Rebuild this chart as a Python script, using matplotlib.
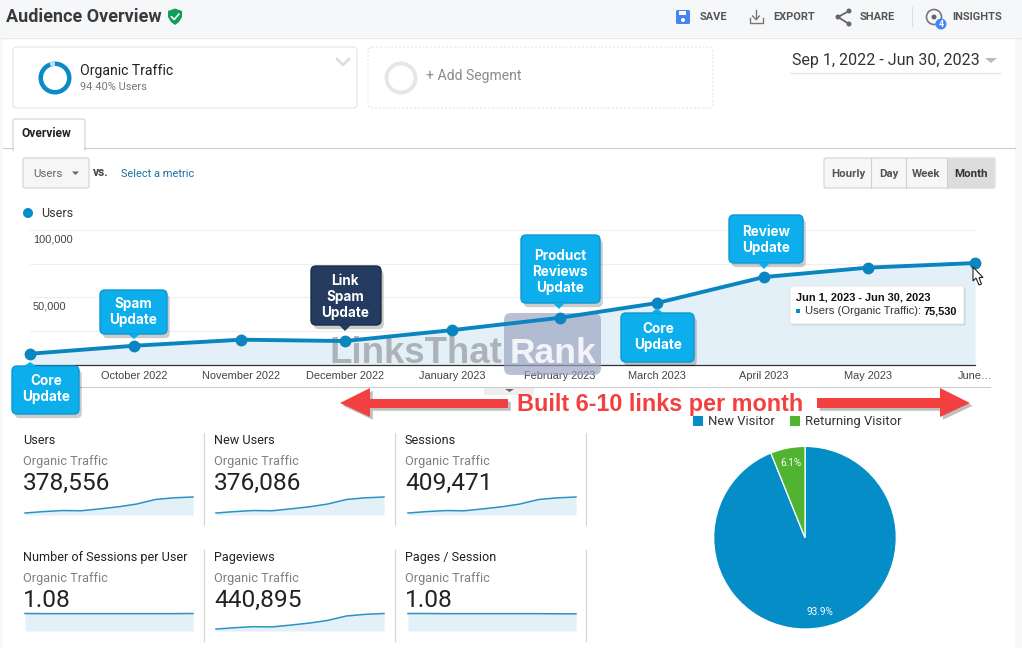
import matplotlib
matplotlib.use("Agg")
import matplotlib.pyplot as plt
import matplotlib.patheffects as pe
import pandas as pd
from matplotlib.patches import Circle, FancyBboxPatch, Polygon, Rectangle, Wedge
from matplotlib.transforms import ScaledTranslation

plt.rcParams["font.family"] = ["Roboto", "DejaVu Sans"]

W, H = 1022, 648

months = ["2022-09-01", "2022-10-01", "2022-11-01", "2022-12-01", "2023-01-01",
          "2023-02-01", "2023-03-01", "2023-04-01", "2023-05-01", "2023-06-01"]
month_labels = ["", "October 2022", "November 2022", "December 2022", "January 2023",
                "February 2023", "March 2023", "April 2023", "May 2023", "June\u2026"]
users = [8350, 14250, 18750, 17750, 25850, 34950, 45850, 65150, 72100, 75530]
new_users = [8300, 14150, 18650, 17650, 25700, 34750, 45550, 64700, 71600, 75100]
sessions = [9000, 15400, 20250, 19200, 27900, 37750, 49500, 70400, 78000, 82000]
pageviews = [9700, 16600, 21800, 20650, 30000, 40600, 53300, 75800, 84000, 88400]
sessions_per_user = [1.09, 1.08, 1.08, 1.08, 1.08, 1.08, 1.08, 1.08, 1.08, 1.09]
pages_per_session = [1.09, 1.09, 1.08, 1.08, 1.08, 1.08, 1.08, 1.08, 1.07, 1.07]

kpi_titles = ["Users", "New Users", "Sessions",
              "Number of Sessions per User", "Pageviews", "Pages / Session"]
kpi_numbers = ["378,556", "376,086", "409,471", "1.08", "440,895", "1.08"]
kpi_series = [users, new_users, sessions, sessions_per_user, pageviews, pages_per_session]

pie_labels = ["New Visitor", "Returning Visitor"]
pie_values = [93.9, 6.1]

BLUE = "#058dc7"
FILL = "#e3f0f8"
GREEN = "#50b432"
CALLOUT = "#0caeec"
CALLOUT_EDGE = "#0b98d4"
NAVY = "#243a5e"
NAVY_EDGE = "#1a2b47"
RED = "#f1403f"

fig = plt.figure(figsize=(W / 100, H / 100), dpi=100, facecolor="white")


def px_axes(x0, y0, x1, y1, zorder=1):
    ax = fig.add_axes([x0 / W, 1 - y1 / H, (x1 - x0) / W, (y1 - y0) / H], zorder=zorder)
    ax.patch.set_alpha(0)
    return ax


def sz(px):
    return px * 0.72


def overlay(zorder):
    ax = px_axes(0, 0, W, H, zorder=zorder)
    ax.set_xlim(0, W)
    ax.set_ylim(H, 0)
    ax.axis("off")
    return ax


def box(ax, x0, y0, x1, y1, r=3, fc="white", ec="#e0e0e0", lw=0.7, ls="-", **kw):
    p = FancyBboxPatch((x0 + r, y0 + r), x1 - x0 - 2 * r, y1 - y0 - 2 * r,
                       boxstyle="round,pad=%s,rounding_size=%s" % (r, r),
                       fc=fc, ec=ec, lw=lw, ls=ls, **kw)
    ax.add_patch(p)
    return p


def label(ax, x, y, s, px=12, color="#333333", weight="normal", ha="left", **kw):
    return ax.text(x, y + 0.8, s, fontsize=sz(px), color=color, fontweight=weight,
                   ha=ha, va="center", **kw)


bg = overlay(0)
top = overlay(5)

# page chrome
bg.add_patch(Rectangle((0, 0), W, 37, fc="#f6f7f9", ec="none"))
bg.add_patch(Rectangle((1015, 37), 7, H, fc="#f7f8fa", ec="none"))
bg.add_patch(Rectangle((0, 37), 3, H, fc="#f7f8fa", ec="none"))
bg.plot([0, W], [37.5, 37.5], color="#e9e9e9", lw=1)

label(bg, 6, 16.5, "Audience Overview", px=18, color="#3a3a3a", weight="bold")
bg.add_patch(Polygon([(168, 11), (175, 8.5), (182, 11), (182, 17), (179, 22), (175, 25),
                      (171, 22), (168, 17)], fc="#0f9d58", ec="none"))
bg.plot([171.5, 174.2, 178.8], [16.8, 19.5, 14.2], color="white", lw=1.2)

for x, s in [(700, "SAVE"), (773, "EXPORT"), (860, "SHARE"), (952, "INSIGHTS")]:
    label(bg, x, 16.5, s, px=11, color="#555555", weight="bold")
box(bg, 676, 10, 690, 24, r=1.5, fc="#4285f4", ec="none")
bg.add_patch(Rectangle((679, 11), 7, 4, fc="white", ec="none"))
bg.add_patch(Circle((683, 20), 2, fc="white", ec="none"))
bg.plot([749.5, 749.5, 762.5, 762.5], [18, 23, 23, 18], color="#777777", lw=1)
bg.plot([756, 756], [10, 19], color="#777777", lw=1)
bg.plot([752.5, 756, 759.5], [16, 19.5, 16], color="#777777", lw=1)
bg.plot([849, 838, 849], [11, 17, 24], color="#666666", lw=1.3)
for cx, cy in [(849, 11), (838, 17), (849, 24)]:
    bg.add_patch(Circle((cx, cy), 2.5, fc="#666666", ec="none"))
bg.plot([911.5, 911.5], [7, 26], color="#dddddd", lw=0.8)
bg.add_patch(Circle((934, 17), 7.5, fc="none", ec="#777777", lw=1.2))
bg.add_patch(Circle((934, 17), 2.5, fc="#666666", ec="none"))
bg.add_patch(Circle((941, 24), 5.5, fc="#4285f4", ec="none"))
label(bg, 941, 23.5, "4", px=9, color="white", weight="bold", ha="center")

# segment boxes
box(bg, 13, 47, 357, 108, r=4)
# matplotlib angles run upward here because the y axis is flipped, so mirror them
bg.add_patch(Wedge((55, 78), 16.5, 0, 360, width=4.5, fc="#0a8ac6", ec="none"))
bg.add_patch(Wedge((55, 78), 16.5, 250, 270, width=4.5, fc="#bcdcec", ec="none"))
label(bg, 80, 70, "Organic Traffic", px=14, color="#222222")
label(bg, 80, 86, "94.40% Users", px=11, color="#777777")
bg.plot([337, 343, 349], [59, 65, 59], color="#dcdcdc", lw=1.8)
box(bg, 368, 47, 713, 108, r=4, ls=(0, (2, 2)))
bg.add_patch(Circle((401, 78), 14.5, fc="none", ec="#e6e6e6", lw=2.8))
label(bg, 426, 75, "+ Add Segment", px=14, color="#8a8a8a")
label(bg, 792, 60, "Sep 1, 2022 - Jun 30, 2023", px=16, color="#333333")
bg.add_patch(Polygon([(985, 58), (997, 58), (991, 63)], fc="#bbbbbb", ec="none"))
bg.plot([790, 1000], [73, 73], color="#e6e6e6", lw=1)

# tab row
bg.plot([3, 1015], [147.5, 147.5], color="#cccccc", lw=0.8)
box(bg, 13, 119, 85, 151, r=2, ec="#cccccc")
bg.add_patch(Rectangle((14, 146), 70, 6, fc="white", ec="none", zorder=3))
label(bg, 22, 133, "Overview", px=12, color="#222222", weight="bold")

# metric selector and time buttons
box(bg, 23, 158, 89, 188, r=2, fc="#f6f6f6", ec="#cccccc")
label(bg, 33, 173, "Users", px=11.5, color="#666666")
bg.add_patch(Polygon([(72, 171.5), (79, 171.5), (75.5, 175)], fc="#666666", ec="none"))
label(bg, 93, 172, "vs.", px=12, color="#444444", weight="bold")
label(bg, 121, 173, "Select a metric", px=11, color="#1a6fa5")
box(bg, 824, 158, 995, 188, r=2, fc="#f7f7f7", ec="#cccccc")
bg.add_patch(Rectangle((947, 159), 47, 28.5, fc="#dcdcdc", ec="none"))
for x in [871, 905.5, 947]:
    bg.plot([x, x], [158, 188], color="#d0d0d0", lw=0.8)
for x, s, c in [(848, "Hourly", "#555555"), (889, "Day", "#555555"),
                (926, "Week", "#555555"), (971, "Month", "#333333")]:
    label(bg, x, 173, s, px=11.5, color=c, weight="bold", ha="center")

bg.add_patch(Circle((28, 213), 5, fc=BLUE, ec="none"))
label(bg, 41, 213, "Users", px=12.5, color="#333333")

# scroll handle under the chart
bg.plot([25, 990], [386.5, 386.5], color="#cccccc", lw=0.8)
bg.add_patch(Rectangle((484, 387), 50, 8, fc="#eeeeee", ec="none"))
bg.add_patch(Polygon([(505, 389), (514, 389), (509.5, 392)], fc="#666666", ec="none"))

# main chart
dates = pd.to_datetime(months)
ax = px_axes(30, 230, 975, 365)
ax.fill_between(dates, users, 0, color=FILL, lw=0)
ax.plot(dates, users, color="#0b85c0", lw=2.8, marker="o", ms=7.5, clip_on=False, zorder=4)
ax.set_xlim(dates[0], dates[-1])
ax.set_ylim(0, 100000)
ax.set_xticks(dates)
ax.set_xticklabels(month_labels, fontsize=sz(11), color="#444444", family="Liberation Sans")
ax.set_yticks([25000, 50000, 75000, 100000])
ax.set_yticklabels(["", "50,000", "", "100,000"], fontsize=sz(11), color="#444444",
                   family="Liberation Sans")
ax.tick_params(axis="x", length=0, pad=4.6)
ax.tick_params(axis="y", length=0, pad=-2)
shift = ScaledTranslation(0, -3 / 72, fig.dpi_scale_trans)
for t in ax.get_yticklabels():
    t.set_ha("left")
    t.set_va("top")
    t.set_transform(t.get_transform() + shift)
ax.grid(axis="y", color="#efefef", lw=0.8)
ax.set_axisbelow(True)
for s in ["top", "left", "right"]:
    ax.spines[s].set_visible(False)
ax.spines["bottom"].set_color("#333333")
ax.spines["bottom"].set_linewidth(0.9)

# watermark sits between the area fill and the line
box(ax, 504, 313, 601, 375, r=7, fc="#9aa3c0", ec="none", alpha=0.68, zorder=3,
    transform=bg.transData, clip_on=False)
ax.text(329, 363, "LinksThat", fontsize=sz(36.6), color="#a6acb1", alpha=0.9, zorder=3,
        fontweight="bold", family="Liberation Sans", ha="left", va="baseline",
        transform=bg.transData)
ax.text(510, 363, "Rank", fontsize=sz(35.5), color="white", alpha=0.85, zorder=3,
        fontweight="bold", family="Liberation Sans", ha="left", va="baseline",
        transform=bg.transData)

# kpi tiles
kpi_x = [23, 214, 405]
kpi_y = [440, 557]
spark_x = [(25, 193), (216, 384), (408, 576)]
divider_x = [203.5, 394.5, 585.5]
spark_y = [(497, 515), (613.5, 631)]
for i, (title, number, series) in enumerate(zip(kpi_titles, kpi_numbers, kpi_series)):
    col, row = i % 3, i // 3
    x, y = kpi_x[col], kpi_y[row]
    label(bg, x, y, title, px=12.6, color="#222222")
    label(bg, x, y + 20.5, "Organic Traffic", px=12.8, color="#808080")
    label(bg, x, y + 43, number, px=24.5, color="#222222")
    sp = px_axes(spark_x[col][0], spark_y[row][0], spark_x[col][1], spark_y[row][1])
    sp.fill_between(dates, series, 0, color=FILL, lw=0)
    sp.plot(dates, series, color="#2a92c6", lw=1.1, clip_on=False)
    sp.set_xlim(dates[0], dates[-1])
    sp.set_ylim(0, max(series))
    sp.axis("off")
    bg.plot([divider_x[col]] * 2, [spark_y[row][0] - 64, spark_y[row][1] + 10],
            color="#d5d5d5", lw=0.8)

# pie
pie_ax = px_axes(713.7, 446.4, 896.3, 629)
pie_ax.pie(pie_values, colors=[BLUE, GREEN], startangle=90, counterclock=False,
           autopct="%.1f%%", pctdistance=0.83,
           wedgeprops={"edgecolor": "white", "linewidth": 0.9},
           textprops={"color": "white", "fontsize": sz(10)})
pie_ax.set_xlim(-1, 1)
pie_ax.set_ylim(-1, 1)
for x, c, s in [(693, BLUE, pie_labels[0]), (790, GREEN, pie_labels[1])]:
    top.add_patch(Rectangle((x, 416), 10, 10, fc=c, ec="none"))
    label(top, x + 15, 421, s, px=13, color="#333333")

# callouts: box, pointer tip, text centre, lines, colours
shadow = [pe.SimplePatchShadow(offset=(2, -3), shadow_rgbFace="black", alpha=0.2), pe.Normal()]
callouts = [
    (12, 366, 79, 414, (30, 362), (46, 389), ["Core", "Update"], CALLOUT, CALLOUT_EDGE),
    (100, 290, 167, 334, (134, 339), (133, 312), ["Spam", "Update"], CALLOUT, CALLOUT_EDGE),
    (311, 266, 381, 325, (345, 331), (345, 297), ["Link", "Spam", "Update"], NAVY, NAVY_EDGE),
    (521, 235, 600, 303, (559, 309), (560, 272), ["Product", "Reviews", "Update"], CALLOUT, CALLOUT_EDGE),
    (621, 313, 694, 362, (657, 308), (658, 337), ["Core", "Update"], CALLOUT, CALLOUT_EDGE),
    (729, 215, 803, 263, (764, 269), (766, 240), ["Review", "Update"], CALLOUT, CALLOUT_EDGE),
]
for x0, y0, x1, y1, tip, centre, lines, fc, ec in callouts:
    base_y = y0 if tip[1] < y0 else y1
    box(top, x0, y0, x1, y1, r=5, fc=fc, ec=ec, lw=1, path_effects=shadow)
    top.add_patch(Polygon([(tip[0] - 6, base_y), (tip[0] + 6, base_y), tip], fc=fc, ec="none"))
    for j, s in enumerate(lines):
        top.text(centre[0], centre[1] + (j - (len(lines) - 1) / 2) * 16, s, fontsize=sz(13.5),
                 color="white", fontweight="bold", family="Inter", ha="center", va="center")

# red arrows
arrow_shadow = [pe.SimplePatchShadow(offset=(2, -2), shadow_rgbFace="black", alpha=0.25), pe.Normal()]
top.add_patch(Polygon([(340, 403), (370, 388), (370, 399), (508, 399), (508, 408),
                       (370, 408), (370, 417)], fc=RED, ec="none", path_effects=arrow_shadow))
top.add_patch(Polygon([(970, 403), (940, 388), (940, 398), (817, 398), (817, 408),
                       (940, 408), (940, 417)], fc=RED, ec="none", path_effects=arrow_shadow))
top.text(517, 404, "Built 6-10 links per month", fontsize=sz(23.4), color=RED, fontweight="bold",
         family="Liberation Sans", ha="left", va="center")

# tooltip
box(top, 790, 286, 964, 324, r=1, fc="white", ec="#e2e2e2", lw=0.6,
    path_effects=[pe.SimplePatchShadow(offset=(1, -1), shadow_rgbFace="black", alpha=0.12), pe.Normal()])
top.text(796, 297, "Jun 1, 2023 - Jun 30, 2023", fontsize=sz(11), color="#111111", fontweight="bold",
         family="Liberation Sans", ha="left", va="center")
top.add_patch(Rectangle((796, 309), 4, 4, fc=BLUE, ec="none"))
top.text(805, 311, "Users (Organic Traffic):", fontsize=sz(11.2), color="#333333",
         family="Liberation Sans", ha="left", va="center")
top.text(957, 311, "75,530", fontsize=sz(11), color="#111111", fontweight="bold",
         family="Liberation Sans", ha="right", va="center")

# mouse pointer
top.add_patch(Polygon([(973, 267), (973, 281), (976, 278), (979, 285), (981.5, 284),
                       (979, 277.5), (983, 277.5)], fc="white", ec="#222222", lw=0.8))

fig.savefig("out.png", dpi=100)
